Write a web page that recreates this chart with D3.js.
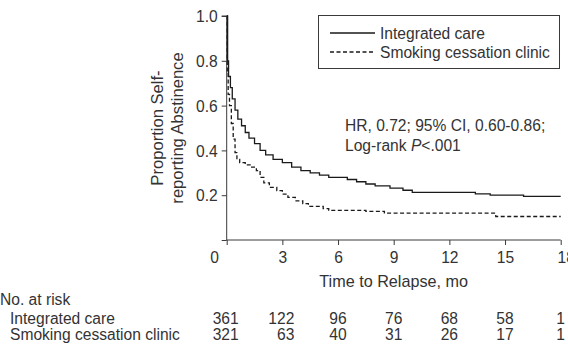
<!DOCTYPE html>
<html>
<head>
<meta charset="utf-8">
<script src="https://cdn.jsdelivr.net/npm/d3@7"></script>
<style>
  body { margin: 0; background: #fff; }
  svg text { font-family: "Liberation Sans", Arial, sans-serif; fill: #333; }
</style>
</head>
<body>
<div id="chart"></div>
<script>
// Kaplan-Meier curves (month, proportion abstinent)
const integratedTimes = [0, 0.05, 0.1, 0.2, 0.3, 0.45, 0.6, 0.8, 1.0, 1.2, 1.5, 1.8, 2.1, 2.5, 3.0, 3.5, 4.0, 4.5, 5.0, 5.5, 6.5, 7.0, 7.5, 8.0, 8.8, 9.5, 10.0, 13.4, 14.2, 16.0, 18];
const integratedSurv  = [1.0, 0.8, 0.73, 0.68, 0.63, 0.58, 0.54, 0.51, 0.48, 0.455, 0.43, 0.4, 0.38, 0.36, 0.345, 0.325, 0.31, 0.3, 0.29, 0.28, 0.27, 0.26, 0.25, 0.242, 0.232, 0.222, 0.213, 0.206, 0.2, 0.195, 0.195];

const clinicTimes = [0, 0.03, 0.08, 0.15, 0.25, 0.35, 0.45, 0.55, 0.7, 1.0, 1.3, 1.6, 1.8, 2.0, 2.3, 2.7, 3.0, 3.3, 3.7, 4.1, 4.4, 5.2, 5.5, 7.5, 8.5, 14.5, 18];
const clinicSurv  = [1.0, 0.75, 0.65, 0.6, 0.52, 0.45, 0.39, 0.36, 0.345, 0.335, 0.325, 0.31, 0.28, 0.255, 0.235, 0.22, 0.205, 0.19, 0.175, 0.162, 0.15, 0.14, 0.132, 0.128, 0.12, 0.105, 0.105];

const seriesNames = ["Integrated care", "Smoking cessation clinic"];
const xTicks = [0, 3, 6, 9, 12, 15, 18];
const yTicks = [0, 0.2, 0.4, 0.6, 0.8, 1.0];
const atRiskIntegrated = [361, 122, 96, 76, 68, 58, 1];
const atRiskClinic = [321, 63, 40, 31, 26, 17, 1];

const width = 568, height = 345;
const fs = 15.6;
const ink = "#3a3a3a";

let svg = d3.select("#chart").append("svg")
  .attr("width", width)
  .attr("height", height);

let x = d3.scaleLinear().domain([0, 18]).range([226.7, 560.7]);
let y = d3.scaleLinear().domain([0, 1]).range([240, 16]);

// y axis
let yAxis = svg.append("g")
  .attr("transform", `translate(${x(0)},0)`)
  .call(d3.axisLeft(y).tickValues(yTicks).tickSize(5).tickPadding(4)
    .tickFormat(d => d === 0 ? "" : d3.format(".1f")(d)));
yAxis.select(".domain").attr("stroke", ink).attr("d", `M-5,${y(1)}H0V${y(0)}`);
yAxis.selectAll(".tick line").attr("stroke", ink);
yAxis.selectAll(".tick text").attr("font-size", fs).attr("dy", "0.36em");

// x axis
let xAxis = svg.append("g")
  .attr("transform", `translate(0,${y(0)})`)
  .call(d3.axisBottom(x).tickValues(xTicks).tickSize(5).tickPadding(7));
xAxis.select(".domain").attr("stroke", ink).attr("d", `M${x(0)},0H${x(18)}`);
xAxis.selectAll(".tick line").attr("stroke", ink);
xAxis.selectAll(".tick text").attr("font-size", fs)
  .attr("dx", d => d === 0 ? -12.5 : (d === 18 ? 5 : 0));

// curves
let line = d3.line()
  .x(d => x(d[0]))
  .y(d => y(d[1]))
  .curve(d3.curveStepAfter);

let integrated = d3.zip(integratedTimes, integratedSurv);
let clinic = d3.zip(clinicTimes, clinicSurv);

svg.append("path").datum(integrated)
  .attr("d", line)
  .attr("fill", "none")
  .attr("stroke", "#1a1a1a")
  .attr("stroke-width", 1.3);

svg.append("path").datum(clinic)
  .attr("d", line)
  .attr("fill", "none")
  .attr("stroke", "#1a1a1a")
  .attr("stroke-width", 1.3)
  .attr("stroke-dasharray", "4,2.5");

// legend
let legend = svg.append("g");
legend.append("rect")
  .attr("x", 318.5).attr("y", 15.5)
  .attr("width", 241).attr("height", 53)
  .attr("fill", "#fff").attr("stroke", ink).attr("stroke-width", 1);

seriesNames.forEach(function (name, i) {
  let ly = 33 + i * 19;
  legend.append("line")
    .attr("x1", 330).attr("x2", 375)
    .attr("y1", ly).attr("y2", ly)
    .attr("stroke", "#1a1a1a").attr("stroke-width", 1.3)
    .attr("stroke-dasharray", i === 1 ? "4,2.5" : null);
  legend.append("text")
    .attr("x", 380).attr("y", ly + 5.5)
    .attr("font-size", fs)
    .text(name);
});

// annotation
let note = svg.append("text").attr("x", 345).attr("y", 131).attr("font-size", fs);
note.text("HR, 0.72; 95% CI, 0.60-0.86;");
let note2 = svg.append("text").attr("x", 345).attr("y", 151).attr("font-size", fs);
note2.append("tspan").text("Log-rank ");
note2.append("tspan").attr("font-style", "italic").text("P");
note2.append("tspan").text("<.001");

// axis titles
svg.append("text")
  .attr("x", (x(0) + x(18)) / 2).attr("y", 287)
  .attr("text-anchor", "middle")
  .attr("font-size", fs + 0.6)
  .text("Time to Relapse, mo");

let ytitle = svg.append("text")
  .attr("transform", `translate(0,${(y(0) + y(1)) / 2}) rotate(-90)`)
  .attr("text-anchor", "middle")
  .attr("font-size", 16.6);
ytitle.append("tspan").attr("x", 0).attr("y", 163).text("Proportion Self-");
ytitle.append("tspan").attr("x", 0).attr("y", 183).text("reporting Abstinence");

// number at risk table
svg.append("text").attr("x", 0).attr("y", 305).attr("font-size", fs).text("No. at risk");

[atRiskIntegrated, atRiskClinic].forEach(function (row, r) {
  let ry = 324 + r * 16;
  svg.append("text").attr("x", 10).attr("y", ry).attr("font-size", fs).text(seriesNames[r]);
  svg.append("g").selectAll("text")
    .data(row)
    .join("text")
    .attr("x", (d, i) => i < 2 ? x(xTicks[i]) + 12 : x(xTicks[i]))
    .attr("y", ry)
    .attr("text-anchor", (d, i) => i < 2 ? "end" : "middle")
    .attr("font-size", fs)
    .text(d => d);
});
</script>
</body>
</html>
